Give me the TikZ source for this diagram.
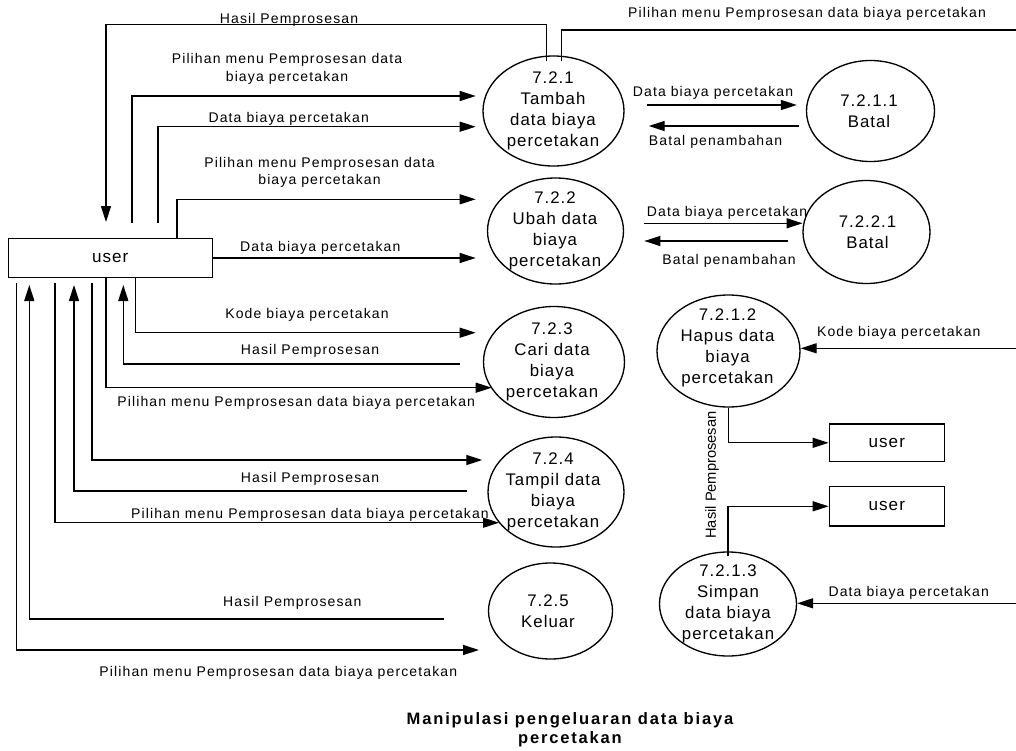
\documentclass[tikz,border=0pt]{standalone}
\usepackage{fontspec}
\setmainfont{Liberation Sans}
\newfontfamily\lblfont[LetterSpace=8]{Liberation Sans}
\newfontfamily\prcfont[LetterSpace=6]{Liberation Sans}
\newfontfamily\ttlfont[LetterSpace=11]{Liberation Sans}
\usetikzlibrary{arrows.meta,shapes.geometric}
\begin{document}
\begin{tikzpicture}[x=0.75pt,y=-0.75pt,line width=1pt,
  arr/.style={-{Triangle[length=12pt,width=7.5pt]}},
  proc/.style={ellipse,draw,inner sep=0pt},
  ptxt/.style={align=center,inner sep=0pt,font=\prcfont\fontsize{12.6}{15.75}\selectfont},
  lbl/.style={align=center,inner sep=0pt,text height=0.72em,text depth=0.21em,font=\lblfont\fontsize{10.5}{13}\selectfont},
  vlbl/.style={inner sep=0pt,text height=0.72em,text depth=0.21em,font=\fontsize{11}{13}\selectfont},
  ent/.style={draw,inner sep=0pt,font=\prcfont\fontsize{12.8}{14}\selectfont},
  ttl/.style={align=center,inner sep=0pt,font=\ttlfont\bfseries\fontsize{12.4}{14}\selectfont}
]
\useasboundingbox (0,0) rectangle (1016,750);

% entities
\node[ent,minimum width=153pt,minimum height=29.5pt] (user) at (110.3,258) {user};
\node[ent,minimum width=86.25pt,minimum height=28.25pt] (user2) at (886.8,442.8) {user};
\node[ent,minimum width=86.25pt,minimum height=29.5pt] (user3) at (886.8,506.3) {user};

% processes
\node[proc,minimum width=105.75pt,minimum height=82.5pt] (p721) at (553.5,111) {};
\node[ptxt] (t721) at (553,111) {7.2.1\\Tambah\\data biaya\\percetakan};
\node[proc,minimum width=96pt,minimum height=75.75pt] (p7211) at (870.5,111) {};
\node[ptxt] (t7211) at (869,111.5) {7.2.1.1\\Batal};
\node[proc,minimum width=102pt,minimum height=79.5pt] (p722) at (555.5,231) {};
\node[ptxt] (t722) at (555,230.5) {7.2.2\\Ubah data\\biaya\\percetakan};
\node[proc,minimum width=95.25pt,minimum height=77.25pt] (p7221) at (866.5,232) {};
\node[ptxt] (t7221) at (867.5,232.5) {7.2.2.1\\Batal};
\node[proc,minimum width=105.75pt,minimum height=83.25pt] (p723) at (554,362) {};
\node[ptxt] (t723) at (552,362) {7.2.3\\Cari data\\biaya\\percetakan};
\node[proc,minimum width=102pt,minimum height=82.5pt] (p724) at (556,492) {};
\node[ptxt] (t724) at (553,492) {7.2.4\\Tampil data\\biaya\\percetakan};
\node[proc,minimum width=93pt,minimum height=72pt] (p725) at (550.5,611) {};
\node[ptxt] (t725) at (548,611) {7.2.5\\Keluar};
\node[proc,minimum width=107.25pt,minimum height=84pt] (p7212) at (728.5,351) {};
\node[ptxt] (t7212) at (727.5,348) {7.2.1.2\\Hapus data\\biaya\\percetakan};
\node[proc,minimum width=102.75pt,minimum height=78pt] (p7213) at (728,604) {};
\node[ptxt] (t7213) at (728,603.7) {7.2.1.3\\Simpan\\data biaya\\percetakan};

% free ends
\coordinate (hp) at (106,222);
\coordinate (pe) at (1016,30);
\coordinate (s132) at (132,222.7);
\coordinate (s158) at (158,222.7);
\coordinate (t96) at (475.7,96);
\coordinate (t127) at (475.7,126.7);
\coordinate (t199) at (475.7,199.3);
\coordinate (t333) at (475.7,332.7);
\coordinate (r364) at (460,364);
\coordinate (u123) at (123.3,285);
\coordinate (t388) at (491.7,387.7);
\coordinate (b92) at (92,283.3);
\coordinate (t460) at (482.3,460);
\coordinate (r491) at (466.7,491);
\coordinate (u74) at (74,285);
\coordinate (b55) at (55,283.3);
\coordinate (t523) at (499,522.7);
\coordinate (r619) at (444.3,619);
\coordinate (u29) at (29.3,285);
\coordinate (b17) at (16.7,283.3);
\coordinate (t650) at (479,650);
\coordinate (k1) at (1016,348.3);
\coordinate (k2) at (1016,603.3);

% top connectors
\draw[arr] ([shift={(-7,6)}]p721.north) -- ++(0,-37) -| (hp);
\draw ([shift={(8,6)}]p721.north) |- (pe);
\draw[arr] (s132) |- (t96);
\draw[arr] (s158) |- (t127);
\draw[arr] ([shift={(66.7,0)}]user.north) |- (t199);
\draw[arr] (user.east) -- (user.east -| t199);

% 7.2.1 <-> 7.2.1.1, 7.2.2 <-> 7.2.2.1
\draw[arr] ([shift={(22,-6)}]p721.east) -- ([shift={(-9,-6)}]p7211.west);
\draw[arr] ([shift={(-7,15)}]p7211.west) -- ([shift={(24,15)}]p721.east);
\draw[arr] ([shift={(20,-7.7)}]p722.east) -- ++(158.4,0);
\draw[arr] ([shift={(-14.7,9)}]p7221.west) -- ++(-143.3,0);

% bottom connectors
\draw[arr] ([shift={(25,0)}]user.south) |- (t333);
\draw[arr] (r364) -| (u123);
\draw[arr] ([shift={(-4.3,0)}]user.south) |- (t388);
\draw[arr] (b92) |- (t460);
\draw[arr] (r491) -| (u74);
\draw[arr] (b55) |- (t523);
\draw[arr] (r619) -| (u29);
\draw[arr] (b17) |- (t650);

% right side
\draw[arr] (k1) -- (k1 -| p7212.east);
\draw[arr] (k2) -- (k2 -| p7213.east);
\draw[arr] (p7212.south) |- (user2.west);
\draw[arr] ([shift={(0,5)}]p7213.north) |- (user3.west);

% labels
\node[lbl] (l1) at (289,20) {Hasil Pemprosesan};
\node[lbl] (l2) at (807,14) {Pilihan menu Pemprosesan data biaya percetakan};
\node[lbl] (l3) at (287,77.7) {Pilihan menu Pemprosesan data\\biaya percetakan};
\node[lbl] (l4) at (288.7,119) {Data biaya percetakan};
\node[lbl] (l5) at (319.5,181.2) {Pilihan menu Pemprosesan data\\biaya percetakan};
\node[lbl] (l6) at (320.3,248.3) {Data biaya percetakan};
\node[lbl] (l7) at (713,92.7) {Data biaya percetakan};
\node[lbl] (l8) at (715.5,141.7) {Batal penambahan};
\node[lbl] (l9) at (727,213.3) {Data biaya percetakan};
\node[lbl] (l10) at (729,260.7) {Batal penambahan};
\node[lbl] (l11) at (307,315) {Kode biaya percetakan};
\node[lbl] (l12) at (310,351) {Hasil Pemprosesan};
\node[lbl] (l13) at (296.2,403.3) {Pilihan menu Pemprosesan data biaya percetakan};
\node[lbl] (l14) at (310,479) {Hasil Pemprosesan};
\node[lbl] (l15) at (310,515) {Pilihan menu Pemprosesan data biaya percetakan};
\node[lbl] (l16) at (292.3,603.3) {Hasil Pemprosesan};
\node[lbl] (l17) at (278.3,673.3) {Pilihan menu Pemprosesan data biaya percetakan};
\node[lbl] (l18) at (898.8,333.3) {Kode biaya percetakan};
\node[lbl] (l19) at (908.7,592.7) {Data biaya percetakan};
\node[vlbl,rotate=90] (l20) at (712.5,475) {Hasil Pemprosesan};

% title
\node[ttl] (title) at (570,730) {Manipulasi pengeluaran data biaya\\percetakan};
\end{tikzpicture}
\end{document}
